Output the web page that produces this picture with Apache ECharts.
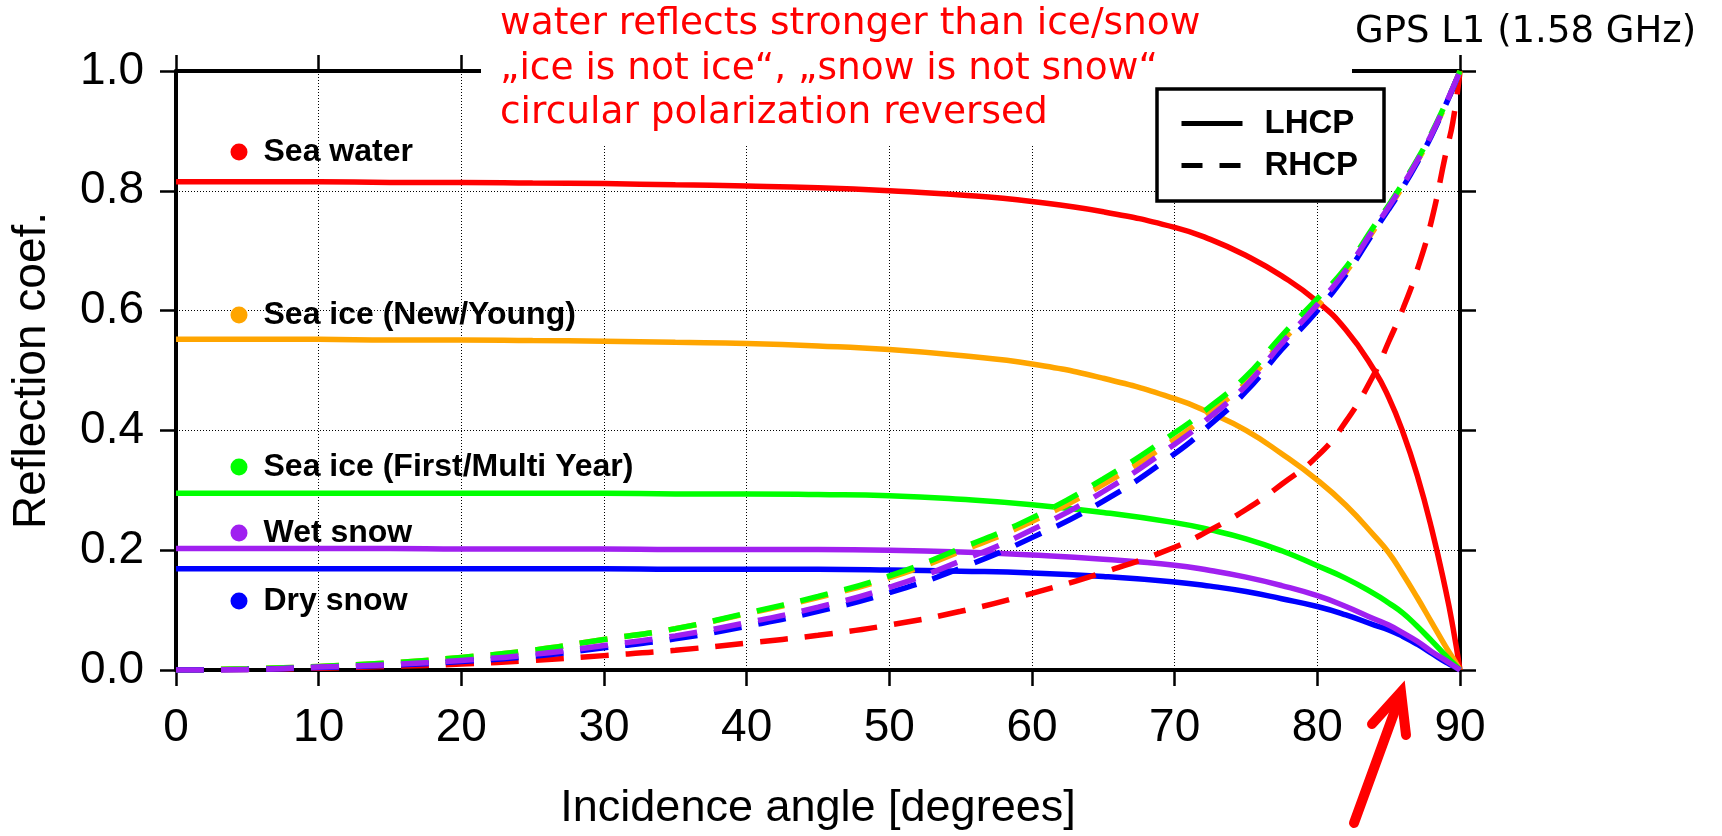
<!DOCTYPE html>
<html>
<head>
<meta charset="utf-8">
<script src="https://cdn.jsdelivr.net/npm/echarts@6.0.0/dist/echarts.min.js"></script>
<style>
html,body{margin:0;padding:0;background:#fff;}
#chart{width:1722px;height:836px;}
</style>
</head>
<body>
<div id="chart"></div>
<script>
// ---------- data ----------
const angles = [0,5,10,15,20,25,30,35,40,45,50,55,60,65,70,72.5,75,77.5,80,82,84,85,86,87,88,89,89.5,90];

const materials = ['Sea water','Sea ice (New/Young)','Sea ice (First/Multi Year)','Wet snow','Dry snow'];

// LHCP (solid)
const seaWaterLHCP   = [0.815,0.815,0.815,0.814,0.814,0.813,0.812,0.810,0.808,0.805,0.800,0.793,0.782,0.765,0.739,0.719,0.692,0.658,0.615,0.568,0.500,0.455,0.397,0.325,0.237,0.133,0.072,0];
const seaIceNewLHCP  = [0.552,0.552,0.552,0.551,0.551,0.550,0.549,0.547,0.545,0.541,0.535,0.525,0.511,0.487,0.453,0.429,0.400,0.361,0.317,0.275,0.224,0.196,0.160,0.121,0.080,0.039,0.020,0];
const seaIceOldLHCP  = [0.295,0.295,0.295,0.295,0.295,0.295,0.295,0.294,0.294,0.293,0.291,0.285,0.276,0.263,0.246,0.234,0.219,0.199,0.174,0.153,0.127,0.112,0.095,0.073,0.049,0.024,0.012,0];
const wetSnowLHCP    = [0.203,0.203,0.203,0.203,0.202,0.202,0.202,0.201,0.201,0.201,0.200,0.197,0.192,0.185,0.175,0.166,0.155,0.141,0.124,0.106,0.085,0.075,0.062,0.048,0.031,0.016,0.008,0];
const drySnowLHCP    = [0.169,0.169,0.169,0.169,0.169,0.169,0.169,0.168,0.168,0.168,0.167,0.165,0.162,0.156,0.147,0.140,0.131,0.119,0.106,0.092,0.075,0.067,0.056,0.043,0.028,0.013,0.007,0];

// RHCP (dashed)
const seaWaterRHCP   = [0,0.001,0.003,0.006,0.010,0.016,0.024,0.033,0.045,0.058,0.075,0.098,0.128,0.163,0.205,0.234,0.268,0.310,0.357,0.415,0.495,0.548,0.603,0.668,0.750,0.862,0.915,1];
const seaIceNewRHCP  = [0,0.002,0.006,0.012,0.021,0.033,0.051,0.069,0.094,0.121,0.154,0.198,0.248,0.310,0.385,0.430,0.480,0.548,0.608,0.664,0.736,0.771,0.808,0.849,0.893,0.944,0.971,1];
const seaIceOldRHCP  = [0,0.002,0.006,0.012,0.021,0.033,0.051,0.069,0.095,0.123,0.157,0.203,0.254,0.319,0.396,0.440,0.490,0.558,0.620,0.672,0.742,0.776,0.813,0.852,0.896,0.946,0.972,1];
const wetSnowRHCP    = [0,0.001,0.005,0.009,0.016,0.026,0.041,0.057,0.079,0.105,0.138,0.182,0.234,0.298,0.377,0.423,0.475,0.545,0.610,0.667,0.738,0.773,0.810,0.850,0.894,0.945,0.972,1];
const drySnowRHCP    = [0,0.001,0.004,0.008,0.014,0.023,0.037,0.052,0.073,0.098,0.129,0.170,0.221,0.282,0.361,0.410,0.465,0.535,0.600,0.660,0.733,0.769,0.806,0.847,0.892,0.944,0.971,1];

const lhcpValues = [seaWaterLHCP, seaIceNewLHCP, seaIceOldLHCP, wetSnowLHCP, drySnowLHCP];
const rhcpValues = [seaWaterRHCP, seaIceNewRHCP, seaIceOldRHCP, wetSnowRHCP, drySnowRHCP];
const polarizations = ['LHCP','RHCP'];

const noteLines = ['water reflects stronger than ice/snow', '\u201Eice is not ice\u201C, \u201Esnow is not snow\u201C', 'circular polarization reversed'];
const bandLabel = 'GPS L1 (1.58 GHz)';
const xAxisName = 'Incidence angle [degrees]';
const yAxisName = 'Reflection coef.';

// ---------- styling / layout ----------
const colors = ['#ff0000','#ffa500','#00ff00','#a020f0','#0000ff'];
const drawOrder = [0, 1, 2, 4, 3];           // purple drawn last (on top)
const legendCenters = [152, 315, 467, 533, 601];
const tickFont = '"Liberation Sans", Arial, sans-serif';
const sansFont = '"Liberation Sans", Arial, sans-serif';
const noteFont = '"DejaVu Sans", Verdana, sans-serif';

const toPairs = vals => angles.map((a, i) => [a, vals[i]]);

const series = [];
drawOrder.forEach(i => {
  series.push({
    name: materials[i], type: 'line', data: toPairs(lhcpValues[i]),
    symbol: 'none', smooth: 0.5, silent: true,
    color: colors[i], lineStyle: { width: 5.5, color: colors[i], type: 'solid' }, z: 2
  });
});
drawOrder.forEach(i => {
  series.push({
    name: materials[i], type: 'line', data: toPairs(rhcpValues[i]),
    symbol: 'none', smooth: 0.5, silent: true,
    color: colors[i], lineStyle: { width: 5.5, color: colors[i], type: [28, 17], cap: 'butt' }, z: 2
  });
});
// black key series for the polarization legend
series.push({ name: 'LHCP', type: 'line', data: [], symbol: 'none', color: '#000', lineStyle: { width: 5, color: '#000', type: 'solid' } });
series.push({ name: 'RHCP', type: 'line', data: [], symbol: 'none', color: '#000', lineStyle: { width: 5, color: '#000', type: [21, 17] } });

const axisLine = { show: true, onZero: false, lineStyle: { color: '#000', width: 4 } };
const axisTick = { show: true, inside: false, length: 16, lineStyle: { color: '#000', width: 2.5 } };
const gridLine = { show: true, lineStyle: { color: '#000', width: 1, type: [1, 2] } };

const legends = materials.map((m, i) => ({
  data: [m], left: 230.5, top: legendCenters[i] - 16, padding: 0,
  icon: 'circle', itemWidth: 17, itemHeight: 17, selectedMode: false,
  textStyle: { fontFamily: sansFont, fontWeight: 'bold', fontSize: 32, lineHeight: 32, color: '#000', padding: [0, 0, 0, 11] }
}));
legends.push({
  data: polarizations, orient: 'vertical', left: 1157, top: 89,
  padding: [18, 26, 19, 22], itemGap: 9, itemWidth: 61, itemHeight: 14,
  backgroundColor: '#fff', borderColor: '#000', borderWidth: 3.5, selectedMode: false,
  itemStyle: { opacity: 0 }, lineStyle: { width: 5 },
  textStyle: { fontFamily: sansFont, fontWeight: 'bold', fontSize: 33, lineHeight: 32, color: '#000', padding: [0, 0, 0, 17] }
});

const option = {
  animation: false,
  backgroundColor: '#fff',
  grid: { left: 176, right: 262, top: 71, bottom: 158, containLabel: false },
  xAxis: [
    {
      type: 'value', position: 'bottom', min: 0, max: 90, interval: 10,
      axisLine, axisTick,
      axisLabel: { color: '#000', fontFamily: tickFont, fontSize: 46, lineHeight: 46, margin: 35 },
      splitLine: gridLine,
      name: xAxisName, nameLocation: 'middle', nameGap: 116,
      nameTextStyle: { color: '#000', fontFamily: sansFont, fontSize: 45, lineHeight: 45 }
    },
    {
      type: 'value', position: 'top', min: 0, max: 90, interval: 10,
      axisLine, axisTick, axisLabel: { show: false }, splitLine: { show: false }
    }
  ],
  yAxis: [
    {
      type: 'value', position: 'left', min: 0, max: 1, interval: 0.2,
      axisLine, axisTick,
      axisLabel: { color: '#000', fontFamily: tickFont, fontSize: 46, lineHeight: 46, margin: 32, formatter: v => v.toFixed(1) },
      splitLine: gridLine,
      name: yAxisName, nameLocation: 'middle', nameGap: 121,
      nameTextStyle: { color: '#000', fontFamily: sansFont, fontSize: 46, lineHeight: 46 }
    },
    {
      type: 'value', position: 'right', min: 0, max: 1, interval: 0.2,
      axisLine, axisTick, axisLabel: { show: false }, splitLine: { show: false }
    }
  ],
  legend: legends,
  series,
  graphic: [
    { type: 'rect', silent: true, z: 3, shape: { x: 481, y: 0, width: 871, height: 145 }, style: { fill: '#fff' } },
    ...noteLines.map((t, i) => ({
      type: 'text', silent: true, z: 5, x: 500, y: [24, 69, 113][i],
      style: { text: t, fill: '#ff0000', font: '37.5px ' + noteFont, verticalAlign: 'middle', align: 'left' }
    })),
    { type: 'text', silent: true, z: 5, x: 1355, y: 32,
      style: { text: bandLabel, fill: '#000', font: '37px ' + noteFont, verticalAlign: 'middle', align: 'left' } },
    { type: 'polyline', silent: true, z: 6, shape: { points: [[1354, 823], [1401, 694]] },
      style: { stroke: '#ff0000', lineWidth: 10, lineCap: 'round', fill: null } },
    { type: 'polyline', silent: true, z: 6, shape: { points: [[1372, 724], [1401, 692], [1406, 735]] },
      style: { stroke: '#ff0000', lineWidth: 10, lineCap: 'round', lineJoin: 'miter', fill: null } }
  ]
};

const chart = echarts.init(document.getElementById('chart'), null, { renderer: 'canvas' });
chart.setOption(option);
</script>
</body>
</html>
